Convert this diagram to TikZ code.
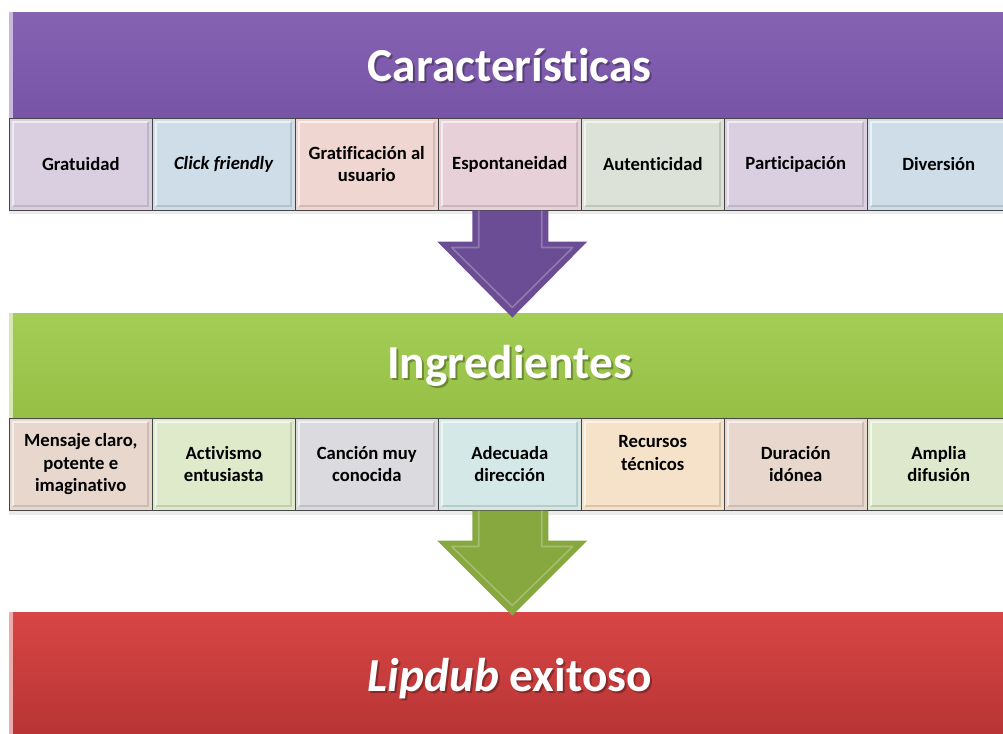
\documentclass[tikz,border=0pt]{standalone}
\usepackage{fontspec}
\setmainfont{Carlito}[Ligatures=NoCommon]
\usetikzlibrary{positioning}

\definecolor{purpT}{HTML}{8662B3}
\definecolor{purpB}{HTML}{7854A7}
\definecolor{greenT}{HTML}{A3CD55}
\definecolor{greenB}{HTML}{96BF45}
\definecolor{redT}{HTML}{D84545}
\definecolor{redB}{HTML}{B53333}
\definecolor{arrPurp}{HTML}{6B4D96}
\definecolor{arrGreen}{HTML}{86A83F}
\definecolor{gratc}{HTML}{D9CFE1}
\definecolor{clickc}{HTML}{CFDDE8}
\definecolor{gratic}{HTML}{F0D6D0}
\definecolor{espc}{HTML}{E8D0D9}
\definecolor{autc}{HTML}{DCE2D7}
\definecolor{partc}{HTML}{D9CFE1}
\definecolor{divc}{HTML}{CFDDE8}
\definecolor{mensc}{HTML}{E8D7CD}
\definecolor{actc}{HTML}{DFEACB}
\definecolor{canc}{HTML}{DBDADE}
\definecolor{adec}{HTML}{D3E8E7}
\definecolor{recc}{HTML}{F6E1C9}
\definecolor{durc}{HTML}{E8D7CD}
\definecolor{ampc}{HTML}{DEE8CC}

\begin{document}
\begin{tikzpicture}[x=0.75pt,y=-0.75pt,
    band/.style={anchor=north west, inner sep=0pt, minimum width=750.75pt},
    title/.style={text=white, font=\bfseries\fontsize{35.5}{40}\selectfont},
    titleshadow/.style={text=black, opacity=0.3, font=\bfseries\fontsize{35.5}{40}\selectfont},
    cell/.style={anchor=north west, draw=gray!55!black, minimum width=107.25pt, minimum height=69pt,
        text width=102pt, align=flush center, inner sep=0pt, font=\bfseries\fontsize{14}{16.8}\selectfont,
        path picture={
          \draw[white, opacity=0.6, line width=1.2pt]
            ([shift={(3pt,3pt)}]path picture bounding box.south west) --
            ([shift={(3pt,-3pt)}]path picture bounding box.north west) --
            ([shift={(-3pt,-3pt)}]path picture bounding box.north east);
          \draw[black, opacity=0.12, line width=1.2pt]
            ([shift={(-3pt,-3pt)}]path picture bounding box.north east) --
            ([shift={(-3pt,3pt)}]path picture bounding box.south east) --
            ([shift={(3pt,3pt)}]path picture bounding box.south west);
        }},
    bevel/.style={draw=white, opacity=0.25, line width=1.2pt, line join=round}]

  \useasboundingbox (0,0) rectangle (1003,734);
  \fill[white] (0,0) rectangle (1003,734);
  \clip (0,0) rectangle (1003,734);

  % bands
  \node[band, minimum height=79.5pt, top color=purpT, bottom color=purpB] (carbar) at (9,12) {};
  \node[band, minimum height=78.75pt, top color=greenT, bottom color=greenB] (ingbar) at (9,313) {};
  \node[band, minimum height=99pt, top color=redT, bottom color=redB] (lipbar) at (9,612) {};
  \fill[purpT!45!white] (carbar.north west) rectangle ([xshift=3pt]carbar.south west);
  \fill[greenT!45!white] (ingbar.north west) rectangle ([xshift=3pt]ingbar.south west);
  \fill[redT!45!white] (lipbar.north west) rectangle ([xshift=3pt]lipbar.south west);

  \node[titleshadow] (carsh) at ([shift={(1.5pt,-1.5pt)}]carbar.center) {Características};
  \node[title] (cartitle) at (carbar.center) {Características};
  \node[titleshadow] (ingsh) at ([shift={(1.5pt,-1.5pt)}]ingbar.center) {Ingredientes};
  \node[title] (ingtitle) at (ingbar.center) {Ingredientes};
  \node[titleshadow] (lipsh) at ([shift={(1.5pt,-1.5pt)}]lipbar.center) {\textit{Lipdub} exitoso};
  \node[title] (liptitle) at (lipbar.center) {\textit{Lipdub} exitoso};

  % soft shadow under the rows
  \fill[black, opacity=0.08] (9,210) rectangle (1003,214);
  \fill[black, opacity=0.08] (9,511) rectangle (1003,515);

  % cells
  \foreach \txt/\col [count=\i] in {Gratuidad/gratc, \textit{Click friendly}/clickc,
      {Gratificación al\\usuario}/gratic, Espontaneidad/espc, Autenticidad/autc,
      Participación/partc, Diversión/divc}
    \node[cell, fill=\col] (car\i) at ({9+143*(\i-1)},118) {\txt};
  \foreach \txt/\col [count=\i] in {{Mensaje claro,\\potente e\\imaginativo}/mensc,
      {Activismo\\entusiasta}/actc, {Canción muy\\conocida}/canc, {Adecuada\\dirección}/adec,
      {Recursos\\técnicos\\\mbox{}}/recc, {Duración\\idónea}/durc, {Amplia\\difusión}/ampc}
    \node[cell, fill=\col] (ing\i) at ({9+143*(\i-1)},418) {\txt};

  % arrows
  \begin{scope}[shift={(car4.south)}]
    \fill[arrPurp] (-37.5,0) -- (38.5,0) -- (38.5,31) -- (77.5,31) -- (2.5,107) -- (-72.5,31) -- (-37.5,31) -- cycle;
    \draw[bevel] (-31,0) -- (-31,37) -- (-58,37) -- (2.5,97) -- (63,37) -- (32,37) -- (32,0);
  \end{scope}
  \begin{scope}[shift={(ing4.south)}]
    \fill[arrGreen] (-37.5,0) -- (38.5,0) -- (38.5,30) -- (77.5,30) -- (2.5,105) -- (-72.5,30) -- (-37.5,30) -- cycle;
    \draw[bevel] (-31,0) -- (-31,36) -- (-58,36) -- (2.5,95) -- (63,36) -- (32,36) -- (32,0);
  \end{scope}
\end{tikzpicture}
\end{document}
